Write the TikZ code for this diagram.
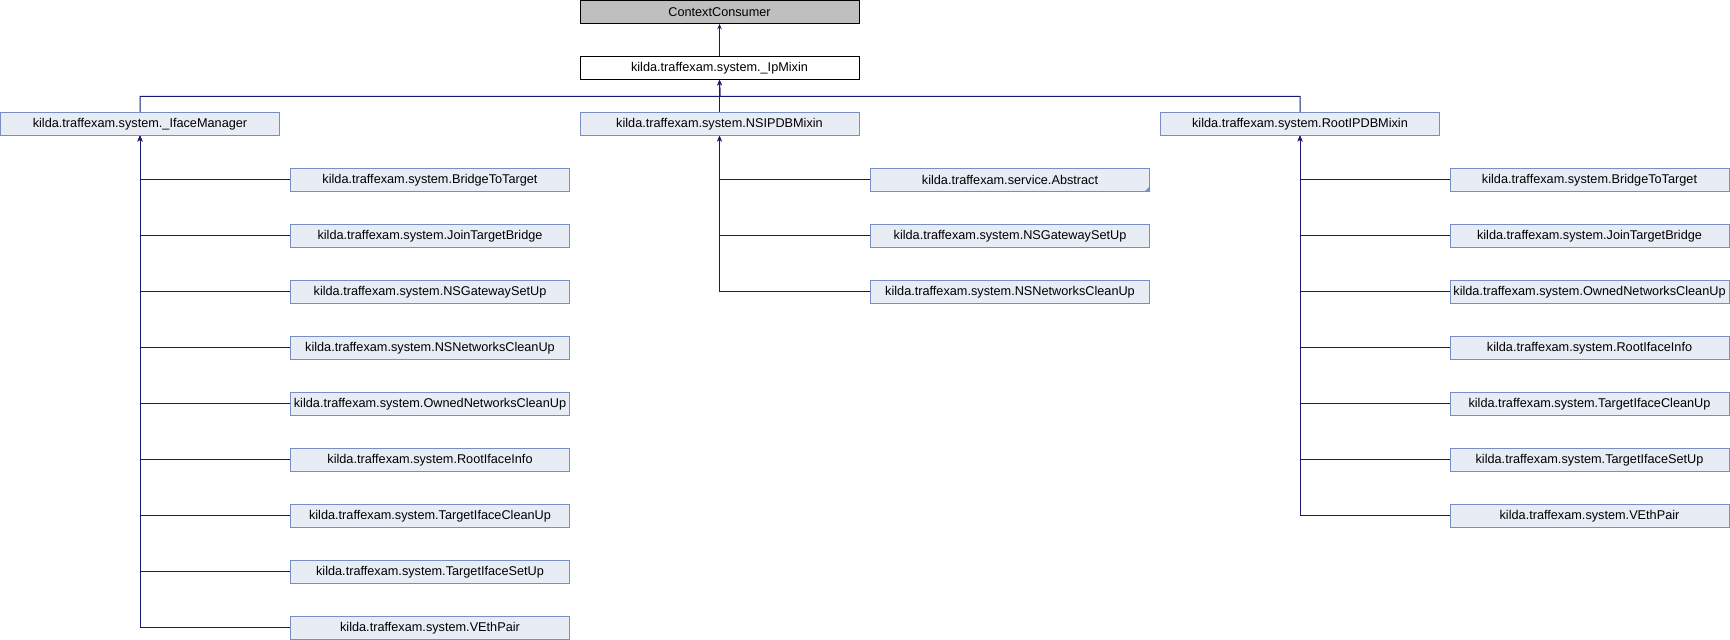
\documentclass[tikz,border=0pt]{standalone}
\usepackage{fontspec}
\setmainfont{Liberation Sans}
\usetikzlibrary{arrows.meta}
\definecolor{nodefill}{HTML}{E8ECF5}
\definecolor{nodeborder}{HTML}{7A8EC6}
\definecolor{edgeblue}{HTML}{191970}
\definecolor{maingray}{HTML}{BFBFBF}
\tikzset{
  cls/.style={draw=nodeborder, fill=nodefill, line width=0.5pt, minimum width=139.5pt, minimum height=11.5pt, inner sep=0pt, font=\fontsize{6.35pt}{7.5pt}\selectfont},
  basecls/.style={cls, draw=black, fill=white},
  topcls/.style={cls, draw=black, fill=maingray},
  edge/.style={draw=edgeblue, line width=0.5pt, -{Stealth[length=2.6pt,width=2.2pt]}}
}
\begin{document}
\begin{tikzpicture}[x=0.5pt,y=-0.5pt]
\useasboundingbox (0,0) rectangle (1730,640);
\node[topcls] (cc) at (719.5,12) {ContextConsumer};
\node[basecls] (ipm) at (719.5,68) {kilda.traffexam.system.\_IpMixin};
\node[cls] (ifm) at (140,124) {kilda.traffexam.system.\_IfaceManager};
\node[cls] (nsi) at (719.5,124) {kilda.traffexam.system.NSIPDBMixin};
\node[cls] (rip) at (1300,124) {kilda.traffexam.system.RootIPDBMixin};
\coordinate (bus) at (720,96.5);
\draw[edge] (ipm.north) -- (cc.south);
\draw[edge] (nsi.north) -- (ipm.south);
\draw[edge] (ifm.north) |- (bus) -- (ipm.south);
\draw[edge] (rip.north) |- (bus) -- (ipm.south);
% left children
\foreach \n/\t [count=\i from 0] in {l1/BridgeToTarget, l2/JoinTargetBridge, l3/NSGatewaySetUp, l4/NSNetworksCleanUp, l5/OwnedNetworksCleanUp, l6/RootIfaceInfo, l7/TargetIfaceCleanUp, l8/TargetIfaceSetUp, l9/VEthPair}{
  \node[cls] (\n) at (430,180+56*\i) {kilda.traffexam.system.\t};
  \draw[edge] (\n.west) -| (ifm.south);
}
% middle children
\node[cls] (m1) at (1010,180) {kilda.traffexam.service.Abstract};
\node[cls] (m2) at (1010,236) {kilda.traffexam.system.NSGatewaySetUp};
\node[cls] (m3) at (1010,292) {kilda.traffexam.system.NSNetworksCleanUp};
\fill[nodeborder] (m1.south east) -- ++(-6,0) -- ++(6,-6) -- cycle;
\foreach \n in {m1,m2,m3}{
  \draw[edge] (\n.west) -| (nsi.south);
}
% right children
\foreach \n/\t [count=\i from 0] in {r1/BridgeToTarget, r2/JoinTargetBridge, r3/OwnedNetworksCleanUp, r4/RootIfaceInfo, r5/TargetIfaceCleanUp, r6/TargetIfaceSetUp, r7/VEthPair}{
  \node[cls] (\n) at (1589.5,180+56*\i) {kilda.traffexam.system.\t};
  \draw[edge] (\n.west) -| (rip.south);
}
\end{tikzpicture}
\end{document}
